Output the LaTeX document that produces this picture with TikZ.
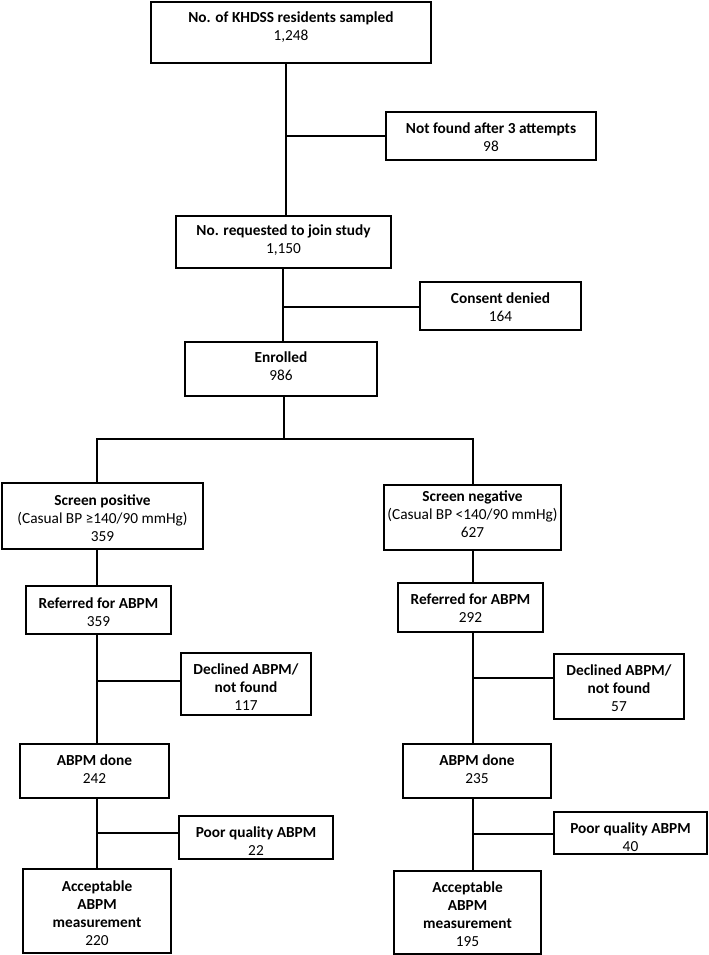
\documentclass[tikz,border=0pt]{standalone}
\usepackage{fontspec}
\setmainfont{Carlito}
\begin{document}
\begin{tikzpicture}[x=0.75pt,y=-0.75pt,
  box/.style={draw, line width=1pt, rectangle, inner sep=0pt, outer sep=0pt},
  txt/.style={align=center, inner sep=0pt, font=\fontsize{11.5}{13.5}\selectfont},
  conn/.style={line width=2.2pt}]
\useasboundingbox (0,0) rectangle (709,955);
% boxes
\node[box, minimum width=280*0.75pt, minimum height=61*0.75pt] (top) at (291,32.5) {};
\node[txt] (topt) at (291,27) {\textbf{No. of KHDSS residents sampled}\\1,248};
\node[box, minimum width=210*0.75pt, minimum height=48*0.75pt] (nf) at (491,136) {};
\node[txt] (nft) at (491,137) {\textbf{Not found after 3 attempts}\\98};
\node[box, minimum width=215*0.75pt, minimum height=52*0.75pt] (req) at (283.5,242) {};
\node[txt] (reqt) at (283.5,240.5) {\textbf{No. requested to join study}\\1,150};
\node[box, minimum width=161*0.75pt, minimum height=48*0.75pt] (cons) at (500.5,306) {};
\node[txt] (const) at (500.5,307.5) {\textbf{Consent denied}\\164};
\node[box, minimum width=192*0.75pt, minimum height=54*0.75pt] (enr) at (281,369) {};
\node[txt] (enrt) at (281,366) {\textbf{Enrolled}\\986};
\node[box, minimum width=201*0.75pt, minimum height=66*0.75pt] (spos) at (102.5,516) {};
\node[txt] (spost) at (102.5,518.5) {\textbf{Screen positive}\\(Casual BP ≥140/90 mmHg)\\359};
\node[box, minimum width=177*0.75pt, minimum height=65*0.75pt] (sneg) at (472.5,517.5) {};
\node[txt] (snegt) at (472.5,514.5) {\textbf{Screen negative}\\(Casual BP <140/90 mmHg)\\627};
\node[box, minimum width=145*0.75pt, minimum height=48*0.75pt] (refL) at (98.5,610) {};
\node[txt] (refLt) at (98.5,612) {\textbf{Referred for ABPM}\\359};
\node[box, minimum width=145*0.75pt, minimum height=49*0.75pt] (refR) at (470.5,607.5) {};
\node[txt] (refRt) at (470.5,608.5) {\textbf{Referred for ABPM}\\292};
\node[box, minimum width=130*0.75pt, minimum height=62*0.75pt] (decL) at (246,684) {};
\node[txt] (decLt) at (246,687) {\textbf{Declined ABPM/}\\\textbf{not found}\\117};
\node[box, minimum width=130*0.75pt, minimum height=65*0.75pt] (decR) at (619,686.5) {};
\node[txt] (decRt) at (619,688.5) {\textbf{Declined ABPM/}\\\textbf{not found}\\57};
\node[box, minimum width=149*0.75pt, minimum height=54*0.75pt] (doneL) at (94.5,771) {};
\node[txt] (doneLt) at (94.5,769) {\textbf{ABPM done}\\242};
\node[box, minimum width=148*0.75pt, minimum height=54*0.75pt] (doneR) at (477,771) {};
\node[txt] (doneRt) at (477,769) {\textbf{ABPM done}\\235};
\node[box, minimum width=154*0.75pt, minimum height=43*0.75pt] (poorL) at (256,837.5) {};
\node[txt] (poorLt) at (256,841) {\textbf{Poor quality ABPM}\\22};
\node[box, minimum width=153*0.75pt, minimum height=42*0.75pt] (poorR) at (630.5,833) {};
\node[txt] (poorRt) at (630.5,837) {\textbf{Poor quality ABPM}\\40};
\node[box, minimum width=148*0.75pt, minimum height=84*0.75pt] (accL) at (97,911) {};
\node[txt] (accLt) at (97,913.5) {\textbf{Acceptable}\\\textbf{ABPM}\\\textbf{measurement}\\220};
\node[box, minimum width=147*0.75pt, minimum height=83*0.75pt] (accR) at (467.5,912.5) {};
\node[txt] (accRt) at (467.5,914.5) {\textbf{Acceptable}\\\textbf{ABPM}\\\textbf{measurement}\\195};
% junctions
\coordinate (j1) at (286,136);
\coordinate (j2) at (283,307);
\coordinate (j3) at (284,439);
\coordinate (sl) at (97,439);
\coordinate (sr) at (473,439);
\coordinate (jL1) at (97,681);
\coordinate (jL2) at (97,833);
\coordinate (jR1) at (473,678);
\coordinate (jR2) at (473,834);
% connectors
\draw[conn] (top.south -| j1) -- (req.north -| j1);
\draw[conn] (j1) -- (nf.west |- j1);
\draw[conn] (req.south -| j2) -- (enr.north -| j2);
\draw[conn] (j2) -- (cons.west |- j2);
\draw[conn] (enr.south -| j3) -- (j3);
\draw[conn] (spos.north -| sl) -- (sl) -- (sr) -- (sneg.north -| sr);
\draw[conn] (spos.south -| sl) -- (refL.north -| sl);
\draw[conn] (sneg.south -| sr) -- (refR.north -| sr);
\draw[conn] (refL.south -| jL1) -- (doneL.north -| jL1);
\draw[conn] (jL1) -- (decL.west |- jL1);
\draw[conn] (doneL.south -| jL2) -- (accL.north -| jL2);
\draw[conn] (jL2) -- (poorL.west |- jL2);
\draw[conn] (refR.south -| jR1) -- (doneR.north -| jR1);
\draw[conn] (jR1) -- (decR.west |- jR1);
\draw[conn] (doneR.south -| jR2) -- (accR.north -| jR2);
\draw[conn] (jR2) -- (poorR.west |- jR2);
\end{tikzpicture}
\end{document}
